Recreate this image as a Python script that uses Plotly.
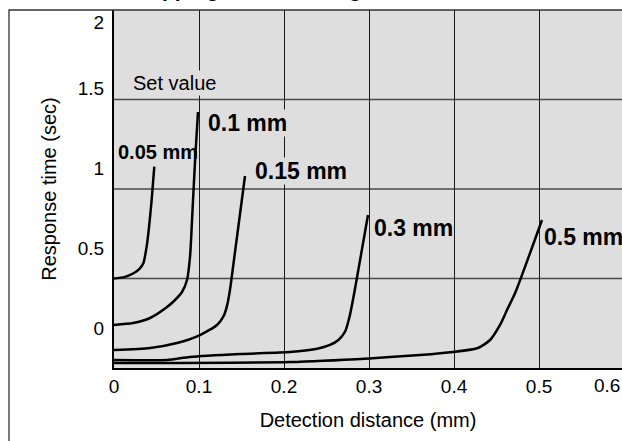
import plotly.graph_objects as go

# ---- data ----
x_005 = [0.0, 0.012, 0.023, 0.030, 0.0345, 0.0384, 0.041, 0.0443, 0.0474]
y_005 = [0.31, 0.318, 0.342, 0.37, 0.404, 0.508, 0.62, 0.80, 1.008]

x_01 = [0.0, 0.0224, 0.0424, 0.0624, 0.0718, 0.080, 0.0859, 0.0895, 0.0925, 0.0955, 0.0988]
y_01 = [0.019, 0.031, 0.0625, 0.131, 0.175, 0.225, 0.30, 0.45, 0.75, 1.06, 1.35]

x_015 = [0.0, 0.0424, 0.0741, 0.1012, 0.1212, 0.1290, 0.1330, 0.1365, 0.1405, 0.1541]
y_015 = [-0.1375, -0.125, -0.094, -0.044, 0.019, 0.075, 0.14, 0.24, 0.40, 0.95]

x_03 = [0.0, 0.0624, 0.0894, 0.1482, 0.2071, 0.2376, 0.2541, 0.2640, 0.2720, 0.2775, 0.2830, 0.2988]
y_03 = [-0.20, -0.20, -0.181, -0.1625, -0.15, -0.131, -0.106, -0.075, -0.02, 0.08, 0.23, 0.706]

x_05 = [0.0, 0.2071, 0.300, 0.360, 0.3988, 0.4282, 0.4424, 0.4541, 0.4630, 0.4720, 0.5035]
y_05 = [-0.219, -0.2125, -0.19, -0.169, -0.15, -0.125, -0.075, 0.019, 0.12, 0.22, 0.675]

series_names = ["0.05 mm", "0.1 mm", "0.15 mm", "0.3 mm", "0.5 mm"]
series_x = [x_005, x_01, x_015, x_03, x_05]
series_y = [y_005, y_01, y_015, y_03, y_05]

x_tick_vals = [0, 0.1, 0.2, 0.3, 0.4, 0.5]
x_tick_text = ["0", "0.1", "0.2", "0.3", "0.4", "0.5"]
x_edge_tick = 0.6
y_tick_vals = [0, 0.5, 1, 1.5, 1.91]
y_tick_text = ["0", "0.5", "1", "1.5", "2"]

FONT = "Liberation Sans, Arial, Helvetica, sans-serif"
BG = "#dedede"
X_MAX = 0.5976

fig = go.Figure()
for name, xs, ys in zip(series_names, series_x, series_y):
    fig.add_trace(go.Scatter(
        x=xs, y=ys, mode="lines", name=name,
        line=dict(color="black", width=2.5, shape="spline", smoothing=0.6),
        showlegend=False, hoverinfo="skip",
    ))

# label annotations (left/middle anchored at their data positions)
label_pos = {
    "0.05 mm": (0.0035, 1.10, 20, False),
    "0.1 mm": (0.1094, 1.284, 23, True),
    "0.15 mm": (0.1647, 0.984, 23, True),
    "0.3 mm": (0.3047, 0.625, 23, False),
    "0.5 mm": (0.5047, 0.569, 23, False),
}
for name in series_names:
    lx, ly, fs, bg = label_pos[name]
    fig.add_annotation(
        x=lx, y=ly, xref="x", yref="y", text="<b>%s</b>" % name,
        showarrow=False, xanchor="left", yanchor="middle",
        font=dict(family=FONT, size=fs, color="black"),
        bgcolor=BG if bg else None, borderpad=0,
    )

fig.add_annotation(
    x=0.02, y=1.532, xref="x", yref="y", text="Set value",
    showarrow=False, xanchor="left", yanchor="middle",
    font=dict(family=FONT, size=20, color="black"),
    bgcolor=BG, borderpad=1,
)

# extra x tick label at the right edge (outside the drawn range)
fig.add_annotation(
    x=x_edge_tick / X_MAX, y=0, xref="paper", yref="paper", text="0.6",
    showarrow=False, xanchor="right", yanchor="top", xshift=-2, yshift=-5,
    font=dict(family=FONT, size=19, color="black"),
)

# partially visible title at the very top
fig.add_annotation(
    x=(27 - 114) / 508, y=1, xref="paper", yref="paper",
    text="<b>Detection stopping distance range</b>",
    showarrow=False, xanchor="left", yanchor="bottom", yshift=7,
    font=dict(family=FONT, size=21, color="black"),
)

# horizontal grid lines at quarter heights of the plot area
for f in (0.25, 0.5, 0.75):
    fig.add_shape(type="line", xref="x domain", yref="y domain",
                  x0=0, x1=1, y0=f, y1=f,
                  line=dict(color="#4a4a4a", width=1.4), layer="below")

# outer frame (left + top)
fig.add_shape(type="rect", xref="paper", yref="paper",
              x0=(9 - 114) / 508, x1=1.5, y0=-1, y1=1,
              line=dict(color="#333333", width=1.3), layer="above")

fig.update_layout(
    width=622, height=441,
    margin=dict(l=114, r=0, t=10, b=73, autoexpand=False),
    paper_bgcolor="white", plot_bgcolor=BG,
    font=dict(family=FONT, size=19, color="black"),
    xaxis=dict(
        range=[0, X_MAX], tickvals=x_tick_vals, ticktext=x_tick_text,
        showgrid=True, gridcolor="#1a1a1a", gridwidth=1, zeroline=False,
        showline=True, linecolor="black", linewidth=2,
        ticks="", tickfont=dict(size=19), automargin=False,
        title=dict(text="Detection distance (mm)", font=dict(size=20), standoff=17),
    ),
    yaxis=dict(
        range=[-0.25, 1.9875], tickvals=y_tick_vals, ticktext=y_tick_text,
        showgrid=False, zeroline=False,
        showline=True, linecolor="black", linewidth=2,
        ticks="outside", ticklen=4, tickcolor="rgba(0,0,0,0)",
        tickfont=dict(size=19), automargin=False,
        title=dict(text="Response time (sec)", font=dict(size=20), standoff=16),
    ),
)

fig.write_html(
    "out.html",
    config={"displayModeBar": False, "staticPlot": True},
    post_script="document.body.style.margin='0';document.body.style.overflow='hidden';",
)
